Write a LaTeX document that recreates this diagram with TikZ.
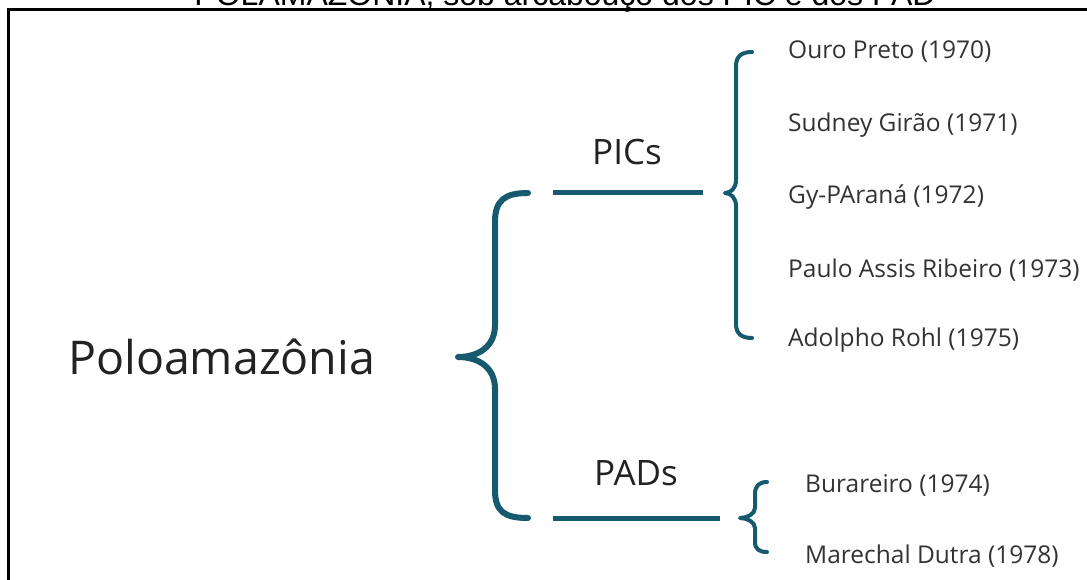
\documentclass[tikz,border=0pt]{standalone}
\usepackage{fontspec}
\setmainfont{Open Sans}
\newfontfamily\titlefont{Liberation Sans}
\definecolor{bracecol}{HTML}{175A70}
\definecolor{txtcol}{HTML}{333333}
\definecolor{rootcol}{HTML}{222222}
\begin{document}
\begin{tikzpicture}[x=1pt,y=-1pt,
  brace/.style={draw=bracecol, line width=6pt, line cap=round, line join=round},
  smallbrace/.style={draw=bracecol, line width=4pt, line cap=round, line join=round},
  link/.style={draw=bracecol, line width=5pt},
  item/.style={anchor=base west, inner sep=0pt, font=\fontsize{24.5}{28}\selectfont, text=txtcol},
  catname/.style={anchor=base, inner sep=0pt, font=\fontsize{35}{40}\selectfont, text=rootcol},
]
\clip (0,0) rectangle (1087,580);
\fill[white] (0,0) rectangle (1087,580);
% title (cut off at the top)
\node[anchor=base, inner sep=0pt, font=\titlefont\fontsize{32}{36}\selectfont] (title) at (565,6) {POLAMAZÔNIA, sob arcabouço dos PIC e dos PAD};
% frame
\draw[line width=3pt] (8,580) -- (8,9.5) -- (1087,9.5);
% root
\node[anchor=base west, inner sep=0pt, font=\fontsize{46.5}{52}\selectfont, text=rootcol] (root) at (68,374) {Poloamazônia};
% big brace
\draw[brace] (528,193) .. controls (505,193) and (495,200) .. (495,222) -- (495,325) .. controls (495,347) and (478,357) .. (458,357) .. controls (478,357) and (495,367) .. (495,389) -- (495,490) .. controls (495,512) and (505,518) .. (528,518);
% category labels
\node[catname] (pics) at (627,165) {PICs};
\node[catname] (pads) at (636,485) {PADs};
% connectors
\coordinate (picsstart) at (553,193);
\coordinate (picsend) at (703,193);
\coordinate (padsstart) at (553,518);
\coordinate (padsend) at (720,518);
\draw[link] (picsstart) -- (picsend);
\draw[link] (padsstart) -- (padsend);
% small braces
\draw[smallbrace] (752,52) .. controls (742,52) and (736,56) .. (736,66) -- (736,180) .. controls (736,188) and (731,193) .. (725,193) .. controls (731,193) and (736,198) .. (736,206) -- (736,324) .. controls (736,334) and (742,338) .. (752,338);
\draw[smallbrace] (767,482) .. controls (759,482) and (755,486) .. (755,494) -- (755,508) .. controls (755,514) and (747,518) .. (740,518) .. controls (747,518) and (755,522) .. (755,528) -- (755,542) .. controls (755,549) and (759,552) .. (767,552);
% items
\node[item] (i1) at (788,59) {Ouro Preto (1970)};
\node[item] (i2) at (788,132) {Sudney Girão (1971)};
\node[item] (i3) at (788,204) {Gy-PAraná (1972)};
\node[item] (i4) at (788,277) {Paulo Assis Ribeiro (1973)};
\node[item] (i5) at (788,346) {Adolpho Rohl (1975)};
\node[item] (j1) at (805,492) {Burareiro (1974)};
\node[item] (j2) at (805,563) {Marechal Dutra (1978)};
\end{tikzpicture}
\end{document}
